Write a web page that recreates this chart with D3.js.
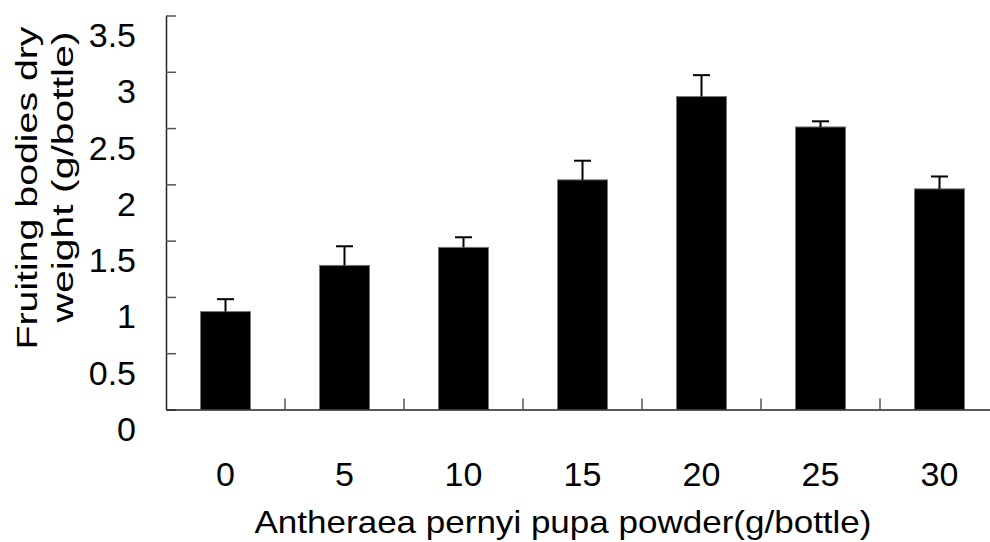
<!DOCTYPE html>
<html>
<head>
<meta charset="utf-8">
<script src="https://cdn.jsdelivr.net/npm/d3@7"></script>
<style>
  body { margin: 0; background: #fff; }
  text { font-family: 'Liberation Sans', Arial, sans-serif; fill: #000; }
</style>
</head>
<body>
<div id="chart"></div>
<script>
var categories = ['0', '5', '10', '15', '20', '25', '30'];
var means = [0.87, 1.28, 1.44, 2.04, 2.78, 2.51, 1.96];
var errors = [0.11, 0.17, 0.09, 0.17, 0.19, 0.05, 0.11];
var y_ticks = [0, 0.5, 1, 1.5, 2, 2.5, 3, 3.5];
var y_tick_labels = ['0', '0.5', '1', '1.5', '2', '2.5', '3', '3.5'];

var chart_width = 990;
var chart_height = 542;
var left = 166;
var bottom = 409.5;
var top_y = 15.5;

var svg = d3.select('#chart')
    .append('svg')
    .attr('width', chart_width)
    .attr('height', chart_height);

var x_scale = d3.scaleBand()
    .domain(categories)
    .range([left, left + 7 * 119])
    .paddingInner(0.58)
    .paddingOuter(0.29);

var y_scale = d3.scaleLinear()
    .domain([0, 3.5])
    .range([bottom, top_y]);

// bars
svg.append('g')
    .selectAll('rect')
    .data(means)
    .enter()
    .append('rect')
    .attr('x', function (d, i) { return x_scale(categories[i]); })
    .attr('y', function (d) { return y_scale(d); })
    .attr('width', x_scale.bandwidth())
    .attr('height', function (d) { return bottom - y_scale(d); })
    .attr('fill', '#000')
    .attr('stroke', '#777')
    .attr('stroke-width', 1);

// error bars (upper only)
var err = svg.append('g')
    .selectAll('g')
    .data(means)
    .enter()
    .append('g');

err.append('line')
    .attr('x1', function (d, i) { return x_scale(categories[i]) + x_scale.bandwidth() / 2; })
    .attr('x2', function (d, i) { return x_scale(categories[i]) + x_scale.bandwidth() / 2; })
    .attr('y1', function (d) { return y_scale(d); })
    .attr('y2', function (d, i) { return y_scale(d + errors[i]); })
    .attr('stroke', '#000')
    .attr('stroke-width', 2);

err.append('line')
    .attr('x1', function (d, i) { return x_scale(categories[i]) + x_scale.bandwidth() / 2 - 8.5; })
    .attr('x2', function (d, i) { return x_scale(categories[i]) + x_scale.bandwidth() / 2 + 8.5; })
    .attr('y1', function (d, i) { return y_scale(d + errors[i]); })
    .attr('y2', function (d, i) { return y_scale(d + errors[i]); })
    .attr('stroke', '#000')
    .attr('stroke-width', 2);

// y axis
var y_axis = d3.axisLeft(y_scale)
    .tickValues(y_ticks)
    .tickFormat(function (d, i) { return y_tick_labels[i]; })
    .tickSizeInner(-10)
    .tickSizeOuter(0)
    .tickPadding(30);

var gy = svg.append('g')
    .attr('transform', 'translate(' + left + ',0)')
    .call(y_axis);
gy.select('.domain').attr('stroke', '#222').attr('stroke-width', 1.5);
gy.selectAll('.tick line').attr('stroke', '#555').attr('stroke-width', 1.5);
gy.selectAll('.tick text')
    .attr('dy', '0.91em')
    .style('font-size', '34px');

// x axis: labels at centers, ticks at category boundaries
var x_axis = d3.axisBottom(x_scale)
    .tickSize(0)
    .tickPadding(52);

var gx = svg.append('g')
    .attr('transform', 'translate(0,' + bottom + ')')
    .call(x_axis);
gx.select('.domain').attr('stroke', '#222').attr('stroke-width', 1.5);
gx.selectAll('.tick text').style('font-size', '34px');

svg.append('g')
    .selectAll('line')
    .data(categories.slice(1))
    .enter()
    .append('line')
    .attr('x1', function (d) { return x_scale(d) - x_scale.step() * x_scale.paddingInner() / 2; })
    .attr('x2', function (d) { return x_scale(d) - x_scale.step() * x_scale.paddingInner() / 2; })
    .attr('y1', bottom)
    .attr('y2', bottom - 11)
    .attr('stroke', '#555')
    .attr('stroke-width', 1.5);

// axis titles
svg.append('text')
    .attr('x', 563)
    .attr('y', 533)
    .attr('text-anchor', 'middle')
    .attr('textLength', 617)
    .attr('lengthAdjust', 'spacingAndGlyphs')
    .style('font-size', '32px')
    .text('Antheraea pernyi pupa powder(g/bottle)');

var y_title = svg.append('text')
    .attr('transform', 'translate(37,188) rotate(-90)')
    .attr('text-anchor', 'middle')
    .style('font-size', '29px');
y_title.append('tspan')
    .attr('x', 0)
    .attr('y', 0)
    .attr('textLength', 323)
    .attr('lengthAdjust', 'spacingAndGlyphs')
    .text('Fruiting bodies dry');
y_title.append('tspan')
    .attr('x', 11)
    .attr('y', 36)
    .attr('textLength', 291)
    .attr('lengthAdjust', 'spacingAndGlyphs')
    .text('weight (g/bottle)');
</script>
</body>
</html>
